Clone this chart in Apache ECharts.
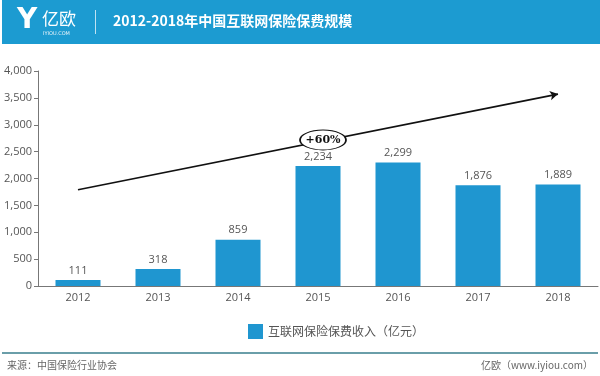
<!DOCTYPE html>
<html>
<head>
<meta charset="utf-8">
<script src="https://cdn.jsdelivr.net/npm/echarts@6/dist/echarts.min.js"></script>
<style>
html, body { margin: 0; padding: 0; background: #fff; }
#chart { width: 600px; height: 376px; }
</style>
</head>
<body>
<div id="chart"></div>
<script>
// 数据
var years = ["2012", "2013", "2014", "2015", "2016", "2017", "2018"];
var premium = [111, 318, 859, 2234, 2299, 1876, 1889];
var yTicks = [0, 500, 1000, 1500, 2000, 2500, 3000, 3500, 4000];
var trendFrom = ["2012", 1790];
var trendTo = ["2018", 3570];
var trendLabel = "+60%";

var blue = "#1f96d0";
var font = '"Noto Sans CJK SC", "Open Sans", sans-serif';
var numFont = '"Open Sans", "Noto Sans CJK SC", sans-serif';

var chart = echarts.init(document.getElementById("chart"));
chart.setOption({
    backgroundColor: "#fff",
    textStyle: { fontFamily: font },
    grid: { left: 38, right: 2, top: 71, bottom: 90 },
    legend: {
        data: ["互联网保险保费收入（亿元）"],
        left: 243, top: 319,
        itemWidth: 15, itemHeight: 15, itemGap: 6,
        icon: "rect",
        textStyle: { color: "#555", fontSize: 12, fontFamily: font }
    },
    xAxis: {
        type: "category",
        data: years,
        axisLine: { lineStyle: { color: "#777" } },
        axisTick: { show: false },
        axisLabel: { color: "#555", fontSize: 11, margin: 6, fontFamily: numFont }
    },
    yAxis: {
        type: "value",
        min: yTicks[0], max: yTicks[yTicks.length - 1], interval: 500,
        axisLine: { show: true, lineStyle: { color: "#777" } },
        axisTick: { show: true, inside: false, length: 4, lineStyle: { color: "#777" } },
        splitLine: { show: false },
        axisLabel: {
            color: "#555", fontSize: 11, margin: 6, fontFamily: numFont,
            formatter: function(v) { return v.toLocaleString("en-US"); }
        }
    },
    series: [{
        name: "互联网保险保费收入（亿元）",
        type: "bar",
        data: premium,
        barWidth: 45,
        itemStyle: { color: blue },
        label: {
            show: true, position: "top", distance: 4,
            color: "#555", fontSize: 11, fontFamily: numFont,
            formatter: function(p) { return p.value.toLocaleString("en-US"); }
        },
        markLine: {
            silent: true,
            symbol: ["none", "arrow"],
            symbolSize: [7, 8],
            lineStyle: { color: "#111", width: 1.6, type: "solid" },
            label: { show: false },
            data: [[{ coord: trendFrom }, { coord: trendTo }]]
        },
        markPoint: {
            silent: true,
            data: [{
                x: 323, y: 140,
                symbol: "circle",
                symbolSize: [46, 20],
                itemStyle: { color: "#fff", borderColor: "#111", borderWidth: 1.2 },
                label: {
                    show: true, formatter: trendLabel,
                    color: "#111", fontSize: 11, fontWeight: "bold",
                    fontFamily: '"DejaVu Serif", serif'
                }
            }]
        }
    }],
    graphic: [
        { type: "rect", left: 2, top: 0, shape: { width: 598, height: 44 }, style: { fill: "#1c9bd1" }, z: 0 },
        { type: "text", left: 17, top: 7, style: { text: "Y", fill: "#fff", font: "bold 28px DejaVu Sans" } },
        { type: "text", left: 42, top: 10, style: { text: "亿欧", fill: "#fff", font: '17px ' + font } },
        { type: "text", left: 43, top: 31, style: { text: "IYIOU.COM", fill: "#e8f4fa", font: "5px DejaVu Sans" } },
        { type: "rect", left: 95, top: 10, shape: { width: 1, height: 24 }, style: { fill: "#bfe2f2" } },
        { type: "text", left: 113, top: 14, style: { text: "2012-2018年中国互联网保险保费规模", fill: "#fff", font: 'bold 14px ' + font } },
        { type: "rect", left: 2, top: 352, shape: { width: 596, height: 2 }, style: { fill: "#6a9ea9" } },
        { type: "text", left: 7, top: 360, style: { text: "来源：中国保险行业协会", fill: "#666", font: '10px ' + font } },
        { type: "text", right: 7, top: 360, style: { text: "亿欧（www.iyiou.com）", fill: "#666", font: '10px ' + font } }
    ]
});
</script>
</body>
</html>
